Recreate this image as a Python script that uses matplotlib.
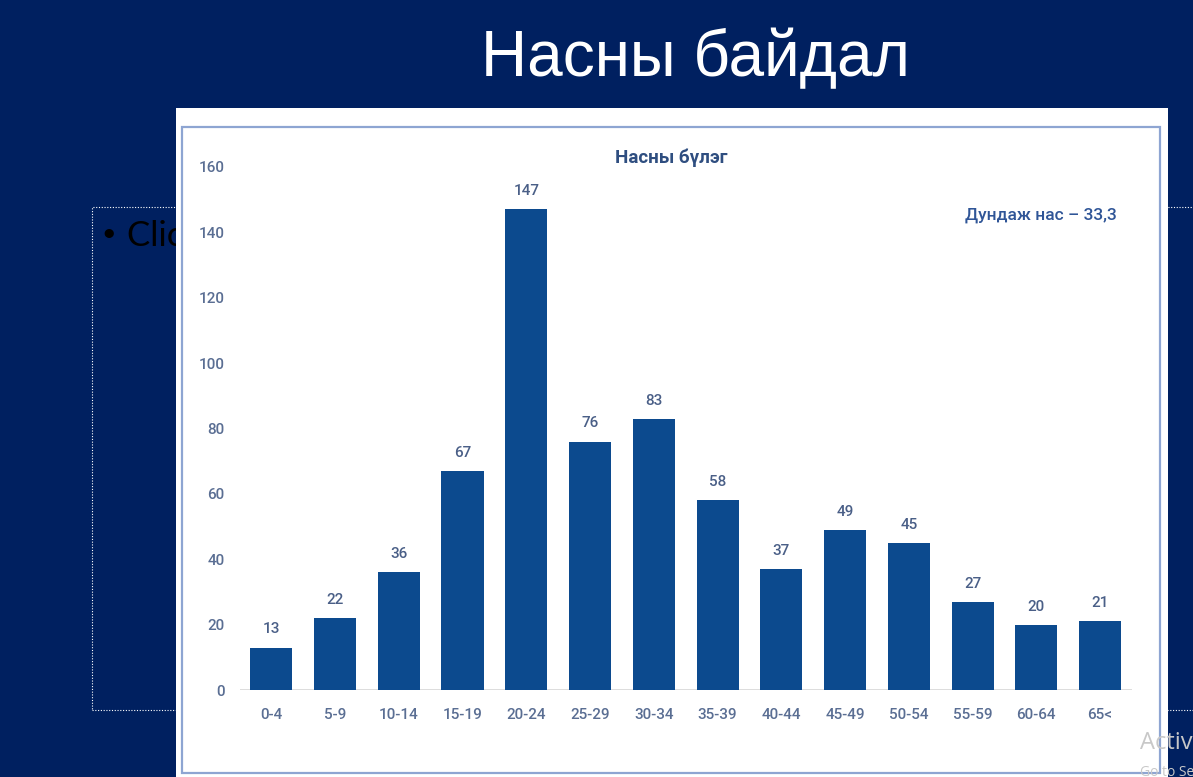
import matplotlib
matplotlib.use("Agg")
import matplotlib.pyplot as plt
from matplotlib.patches import Rectangle

categories = ["0-4", "5-9", "10-14", "15-19", "20-24", "25-29", "30-34",
              "35-39", "40-44", "45-49", "50-54", "55-59", "60-64", "65<"]
values = [13, 22, 36, 67, 147, 76, 83, 58, 37, 49, 45, 27, 20, 21]
y_ticks = [0, 20, 40, 60, 80, 100, 120, 140, 160]

slide_title = "Насны байдал"
chart_title = "Насны бүлэг"
mean_note = "Дундаж нас – 33,3"

W, H = 1193, 777
fig = plt.figure(figsize=(W / 100, H / 100), dpi=100)
fig.patch.set_facecolor("#002060")

def fx(px):
    return px / W

def fy(py):
    return 1 - py / H

# placeholder dotted box
fig.patches.append(Rectangle((fx(92), fy(710)), fx(1210) - fx(92), fy(207) - fy(710),
                             transform=fig.transFigure, fill=False, edgecolor="white",
                             linestyle=(0, (1, 1.5)), linewidth=0.8, zorder=0.5))
fig.text(fx(101), fy(234), "•", color="black", fontsize=18,
         family="Lato", va="center", ha="left", zorder=0.6)
fig.text(fx(127), fy(236), "Click to add text", color="black", fontsize=25,
         family="Lato", va="center", ha="left", zorder=0.6)

# white picture
fig.patches.append(Rectangle((fx(176), fy(790)), fx(1168) - fx(176), fy(108) - fy(790),
                             transform=fig.transFigure, facecolor="white",
                             edgecolor="none", zorder=1))
fig.patches.append(Rectangle((fx(182), fy(773)), fx(1160) - fx(182), fy(127) - fy(773),
                             transform=fig.transFigure, fill=False,
                             edgecolor="#8EA5D2", linewidth=1.6, zorder=1.5))

fig.text(fx(695), fy(59), slide_title, color="white", fontsize=46,
         family="Liberation Sans", ha="center", va="center", zorder=2)

ax = fig.add_axes([fx(240), fy(690), fx(1132) - fx(240), fy(167) - fy(690)])
ax.set_zorder(5)
ax.patch.set_visible(False)

x = list(range(len(categories)))
bars = ax.bar(x, values, width=0.66, color="#0C4A8E", zorder=3)
for xi, v in zip(x, values):
    ax.annotate(str(v), (xi, v), xytext=(0, 8), textcoords="offset points",
                ha="center", va="bottom", fontsize=11, color="#4A5F87",
                family="Roboto", fontweight="medium")

ax.set_xlim(-0.49, 13.5)
ax.set_ylim(0, 160)
ax.set_yticks(y_ticks)
ax.set_yticklabels([str(t) for t in y_ticks])
ax.set_xticks(x)
ax.set_xticklabels(categories)
for s in ax.spines.values():
    s.set_visible(False)
ax.axhline(0, color="#D9D9D9", linewidth=2, zorder=2)
ax.tick_params(axis="both", length=0, labelsize=11, colors="#5A6E93")
ax.tick_params(axis="y", pad=11)
ax.tick_params(axis="x", pad=13)
for lbl in ax.get_xticklabels() + ax.get_yticklabels():
    lbl.set_family("Roboto")
    lbl.set_fontweight("medium")

fig.text(fx(671), fy(158), chart_title, color="#2F4E80", fontsize=13.5,
         family="Roboto", fontweight="bold", ha="center", va="center", zorder=6)
fig.text(fx(1117), fy(215), mean_note, color="#2F5597", fontsize=12.5,
         family="Roboto", fontweight="medium", ha="right", va="center", zorder=6)

fig.text(fx(1140), fy(743), "Activate Windows", color="#C8C8C8", fontsize=17,
         family="Open Sans", ha="left", va="center", zorder=10)
fig.text(fx(1140), fy(772), "Go to Settings to activate Windows.", color="#C8C8C8",
         fontsize=10, family="Open Sans", ha="left", va="center", zorder=10)

fig.savefig("out.png", dpi=100, facecolor=fig.get_facecolor())
